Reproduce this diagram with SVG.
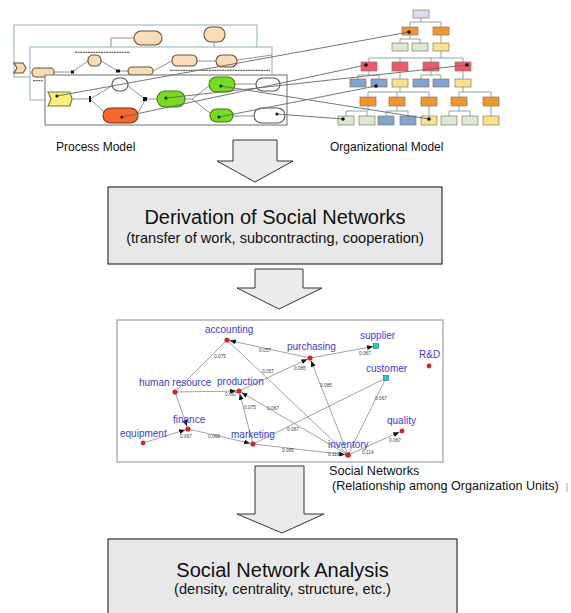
<svg xmlns="http://www.w3.org/2000/svg" width="571" height="613" viewBox="0 0 571 613">
  <defs>
    <style>
      .lbl { font-family: "Liberation Sans", Arial, sans-serif; fill: #111; }
      .big { font-family: "Liberation Sans", Arial, sans-serif; fill: #111; text-anchor: middle; }
      .blk { fill: #ebebeb; stroke: #333; stroke-width: 1; }
      .stage { fill: #e8e8e8; stroke: #333; stroke-width: 1.2; }
      .panel { fill: #fff; stroke: #8fb0b8; stroke-width: 1; }
      .panel3 { fill: #fff; stroke: #6f6f6f; stroke-width: 1; }
      .bg { fill: #f8dcb8; stroke: #6b5030; stroke-width: 1.1; }
      .gr { fill: #78dc1e; stroke: #3d7a10; stroke-width: 1.1; }
      .og { fill: #f2692a; stroke: #7a3010; stroke-width: 1.1; }
      .wh { fill: #fff; stroke: #555; stroke-width: 1.1; }
      .yl { fill: #f8f07a; stroke: #7a7a30; stroke-width: 1.1; }
      .pe { fill: none; stroke: #777; stroke-width: 0.8; }
      .long { fill: none; stroke: #666; stroke-width: 0.9; }
      .tok { fill: #111; }
      .tree { fill: none; stroke: #6f8f94; stroke-width: 0.8; }
      .ob { stroke: #8a7a60; stroke-width: 0.7; }
      .c-lav { fill: #dedaf7; }
      .c-or { fill: #f0962c; }
      .c-lg { fill: #dbe8d3; }
      .c-ye { fill: #fbe28a; }
      .c-rd { fill: #ee5a68; }
      .c-bl { fill: #7fa4d0; }
      .net { fill: none; stroke: #8a8a8a; stroke-width: 0.8; }
      .nl { font-family: "Liberation Sans", Arial, sans-serif; font-size: 10px; fill: #3c3cd4; }
      .el { font-family: "Liberation Sans", Arial, sans-serif; font-size: 4.8px; fill: #444; }
      .nd { fill: #d42424; }
      .cy { fill: #2ec4c4; stroke: #157; stroke-width: 0.5; }
      .scrib { stroke: #666; stroke-width: 1.2; stroke-dasharray: 2 0.6; }
    </style>
    <marker id="ah" markerUnits="userSpaceOnUse" markerWidth="6" markerHeight="5" refX="9" refY="2.5" orient="auto">
      <path d="M0,0 L6,2.5 L0,5 z" fill="#111"/>
    </marker>
  </defs>

  <!-- Process model: three stacked panels -->
  <g id="process-model">
    <rect class="panel" x="14" y="25" width="243" height="52"/>
    <rect class="bg" x="134" y="31" width="28" height="14" rx="7"/>
    <rect class="bg" x="204" y="27" width="21" height="15" rx="7"/>
    <path class="pe" d="M214,42 V47 M134,38 H111 V47"/>
    <polygon class="bg" points="14,63 23,63 26,68 23,73 14,73 17,68"/>

    <rect class="panel" x="30" y="47" width="242" height="53"/>
    <line class="scrib" x1="75" y1="52.3" x2="130" y2="52.3"/>
    <line class="scrib" x1="170" y1="70.3" x2="270" y2="70.3"/>
    <line class="scrib" x1="33" y1="80.7" x2="43" y2="80.7"/>
    <path class="pe" d="M54,72 H72 L88,61 M101,61 L118,71 H128 M153,71 L172,61 M197,61 H216 M237,60 L272,55"/>
    <rect x="71" y="70.5" width="3" height="3" class="tok"/>
    <rect x="116" y="69.5" width="4" height="3" class="tok"/>
    <rect class="bg" x="32" y="68" width="22" height="9" rx="4"/>
    <rect class="bg" x="88" y="55" width="13" height="11" rx="5"/>
    <rect class="bg" x="128" y="67" width="25" height="8" rx="4"/>
    <rect class="bg" x="172" y="55" width="25" height="11" rx="5"/>
    <rect class="bg" x="216" y="55" width="21" height="12" rx="6"/>

    <rect class="panel3" x="45" y="75" width="242" height="50"/>
    <path class="pe" d="M72,99 H90 M90,99 L112,86 M90,99 L104,112 M128,86 L145,99 M138,113 L145,100 M147,99 H157 M185,99 H192 M192,99 L209,86 M192,99 L210,113 M235,84 H256 M233,116 H254"/>
    <rect x="89" y="96" width="2" height="6" class="tok"/>
    <rect x="143" y="97" width="4" height="4" class="tok"/>
    <polygon class="yl" points="48,92 70,92 72,99 70,106 48,106 51,99"/>
    <rect class="wh" x="112" y="78" width="16" height="13" rx="6.5"/>
    <rect class="og" x="103" y="108" width="35" height="15" rx="7.5"/>
    <rect class="gr" x="157" y="91" width="28" height="16" rx="8"/>
    <rect class="gr" x="209" y="77" width="26" height="15" rx="7.5"/>
    <rect class="gr" x="210" y="109" width="23" height="13" rx="6.5"/>
    <rect class="wh" x="256" y="78" width="24" height="13" rx="6.5"/>
    <rect class="wh" x="254" y="108" width="31" height="15" rx="7.5"/>
    <circle class="tok" cx="57" cy="96" r="1.6"/>
    <circle class="tok" cx="122" cy="117" r="1.6"/>
    <circle class="tok" cx="166" cy="98" r="1.6"/>
    <circle class="tok" cx="221" cy="86" r="1.6"/>
    <circle class="tok" cx="219" cy="117" r="1.6"/>
    <circle class="tok" cx="277" cy="114" r="1.6"/>
  </g>

  <!-- Organizational model: hierarchy chart -->
  <g id="org-model">
    <path class="tree" d="M421,18 V22 M410,22 H441 M410,22 V27 M441,22 V27
      M410,35 V39 M400,39 H420 M400,39 V43 M420,39 V43 M441,35 V43
      M441,51 V58 M369,58 H463 M369,58 V62 M400,58 V62 M431,58 V62 M463,58 V62
      M369,71 V75 M358,75 H379 M358,75 V79 M379,75 V79 M400,71 V79
      M431,71 V75 M421,75 H441 M421,75 V79 M441,75 V79 M463,71 V79
      M400,87 V92 M368,92 H429 M368,92 V97 M397,92 V97 M429,92 V97
      M463,87 V92 M459,92 H491 M459,92 V97 M491,92 V97
      M368,106 V111 M346,111 H367 M346,111 V116 M367,111 V116
      M397,106 V111 M386,111 H408 M386,111 V116 M408,111 V116
      M429,106 V116
      M459,106 V111 M449,111 H470 M449,111 V116 M470,111 V116
      M491,106 V116"/>
    <g class="ob">
      <rect class="c-lav" x="413" y="10" width="16" height="8"/>
      <rect class="c-or" x="402" y="27" width="16" height="8"/>
      <rect class="c-or" x="433" y="27" width="16" height="8"/>
      <rect class="c-lg" x="392" y="43" width="16" height="8"/>
      <rect class="c-lg" x="412" y="43" width="16" height="8"/>
      <rect class="c-ye" x="433" y="43" width="16" height="8"/>
      <rect class="c-rd" x="361" y="62" width="16" height="9"/>
      <rect class="c-rd" x="392" y="62" width="16" height="9"/>
      <rect class="c-rd" x="423" y="62" width="16" height="9"/>
      <rect class="c-rd" x="455" y="62" width="16" height="9"/>
      <rect class="c-bl" x="350" y="79" width="16" height="8"/>
      <rect class="c-bl" x="371" y="79" width="16" height="8"/>
      <rect class="c-ye" x="392" y="79" width="16" height="8"/>
      <rect class="c-bl" x="413" y="79" width="16" height="8"/>
      <rect class="c-bl" x="433" y="79" width="16" height="8"/>
      <rect class="c-ye" x="455" y="79" width="16" height="8"/>
      <rect class="c-or" x="360" y="97" width="16" height="9"/>
      <rect class="c-or" x="389" y="97" width="16" height="9"/>
      <rect class="c-or" x="421" y="97" width="16" height="9"/>
      <rect class="c-or" x="451" y="97" width="16" height="9"/>
      <rect class="c-or" x="483" y="97" width="16" height="9"/>
      <rect class="c-lg" x="338" y="116" width="16" height="9"/>
      <rect class="c-lg" x="359" y="116" width="16" height="9"/>
      <rect class="c-bl" x="378" y="116" width="16" height="9"/>
      <rect class="c-bl" x="400" y="116" width="16" height="9"/>
      <rect class="c-ye" x="421" y="116" width="16" height="9"/>
      <rect class="c-lg" x="441" y="116" width="16" height="9"/>
      <rect class="c-lg" x="462" y="116" width="16" height="9"/>
      <rect class="c-ye" x="483" y="116" width="16" height="9"/>
    </g>
  </g>

  <!-- Links from activities to organizational units, and stage arrows -->
  <g id="connectors">
    <path class="long" d="M57,96 L409,32 M122,117 L366,65 M166,98 L467,65 M221,86 L429,119 M219,117 L376,86 M277,114 L343,119"/>
    <g class="tok">
      <circle cx="409" cy="32" r="1.8"/>
      <circle cx="366" cy="65" r="1.8"/>
      <circle cx="467" cy="65" r="1.8"/>
      <circle cx="429" cy="119" r="1.8"/>
      <circle cx="376" cy="86" r="1.8"/>
      <circle cx="343" cy="119" r="1.8"/>
    </g>
    <polygon class="blk" points="233,140 277,140 277,161 293,161 255,182 217,161 233,161"/>
    <polygon class="blk" points="255,269 303,269 303,288 322,288 279,309 237,288 255,288"/>
    <polygon class="blk" points="255,466 304,466 304,514 324,514 282,533 237,514 255,514"/>
  </g>

  <g id="labels-models">
    <text class="lbl" x="56" y="151" font-size="12">Process Model</text>
    <text class="lbl" x="330" y="151" font-size="12">Organizational Model</text>
  </g>

  <g id="stage-derivation">
    <rect class="stage" x="108" y="187" width="334" height="77"/>
    <text class="big" x="275" y="224" font-size="20">Derivation of Social Networks</text>
    <text class="big" x="275" y="243" font-size="14.6">(transfer of work, subcontracting, cooperation)</text>
  </g>

  <!-- Social network among organizational units -->
  <g id="social-network">
    <rect x="117" y="320" width="326" height="142" fill="#fff" stroke="#8c8c8c" stroke-width="1"/>
    <g class="net">
      <line x1="310" y1="358" x2="227" y2="340" marker-end="url(#ah)"/>
      <line x1="310" y1="358" x2="376" y2="346" marker-end="url(#ah)"/>
      <line x1="175" y1="392" x2="227" y2="340"/>
      <line x1="348" y1="455" x2="227" y2="340"/>
      <line x1="239" y1="391" x2="310" y2="358" marker-end="url(#ah)"/>
      <line x1="348" y1="455" x2="310" y2="358" marker-end="url(#ah)"/>
      <line x1="175" y1="392" x2="239" y2="391" marker-end="url(#ah)"/>
      <line x1="175" y1="392" x2="188" y2="429" marker-end="url(#ah)"/>
      <line x1="253" y1="444" x2="239" y2="391" marker-end="url(#ah)"/>
      <line x1="348" y1="455" x2="239" y2="391" marker-end="url(#ah)"/>
      <line x1="253" y1="444" x2="386" y2="378"/>
      <line x1="348" y1="455" x2="386" y2="378"/>
      <line x1="143" y1="443" x2="188" y2="429" marker-end="url(#ah)"/>
      <line x1="188" y1="429" x2="253" y2="444" marker-end="url(#ah)"/>
      <line x1="253" y1="444" x2="348" y2="455" marker-end="url(#ah)"/>
      <line x1="348" y1="455" x2="402" y2="431" marker-end="url(#ah)"/>
    </g>
    <g>
      <text class="el" x="259" y="352">0.057</text>
      <text class="el" x="359" y="355">0.067</text>
      <text class="el" x="214" y="358">0.075</text>
      <text class="el" x="262" y="373">0.057</text>
      <text class="el" x="294" y="370">0.085</text>
      <text class="el" x="320" y="387">0.085</text>
      <text class="el" x="225" y="396">0.067</text>
      <text class="el" x="244" y="409">0.075</text>
      <text class="el" x="267" y="410">0.067</text>
      <text class="el" x="287" y="431">0.067</text>
      <text class="el" x="375" y="400">0.067</text>
      <text class="el" x="180" y="438">0.067</text>
      <text class="el" x="208" y="438">0.068</text>
      <text class="el" x="282" y="452">0.085</text>
      <text class="el" x="389" y="442">0.067</text>
      <text class="el" x="328" y="456">0.119</text>
      <text class="el" x="362" y="454">0.114</text>
    </g>
    <g>
      <circle class="nd" cx="227" cy="340" r="2.6"/>
      <circle class="nd" cx="310" cy="358" r="2.6"/>
      <rect class="cy" x="373.5" y="343.5" width="5" height="5"/>
      <circle class="nd" cx="429" cy="366" r="2.4"/>
      <rect class="cy" x="383.5" y="375.5" width="5" height="5"/>
      <circle class="nd" cx="175" cy="392" r="2.6"/>
      <circle class="nd" cx="239" cy="391" r="2.6"/>
      <circle class="nd" cx="188" cy="429" r="2.6"/>
      <circle class="nd" cx="143" cy="443" r="2.4"/>
      <circle class="nd" cx="253" cy="444" r="2.6"/>
      <circle class="nd" cx="348" cy="455" r="2.8"/>
      <circle class="nd" cx="402" cy="431" r="2.4"/>
    </g>
    <g>
      <text class="nl" x="205" y="333">accounting</text>
      <text class="nl" x="287" y="350">purchasing</text>
      <text class="nl" x="360" y="339">supplier</text>
      <text class="nl" x="419" y="358">R&amp;D</text>
      <text class="nl" x="366" y="372">customer</text>
      <text class="nl" x="139" y="386">human resource</text>
      <text class="nl" x="217" y="385">production</text>
      <text class="nl" x="173" y="423">finance</text>
      <text class="nl" x="120" y="437">equipment</text>
      <text class="nl" x="231" y="438">marketing</text>
      <text class="nl" x="328" y="448">inventory</text>
      <text class="nl" x="387" y="424">quality</text>
    </g>
    <text class="lbl" x="329" y="475" font-size="12.6">Social Networks</text>
    <text class="lbl" x="332" y="490" font-size="12.6">(Relationship among Organization Units)</text>
    <line x1="567" y1="483" x2="567" y2="492" stroke="#aaa" stroke-width="1"/>
  </g>

  <g id="stage-analysis">
    <rect class="stage" x="108" y="539" width="349" height="80"/>
    <text class="big" x="282.5" y="577" font-size="20">Social Network Analysis</text>
    <text class="big" x="282.5" y="594" font-size="14.6">(density, centrality, structure, etc.)</text>
  </g>
</svg>
